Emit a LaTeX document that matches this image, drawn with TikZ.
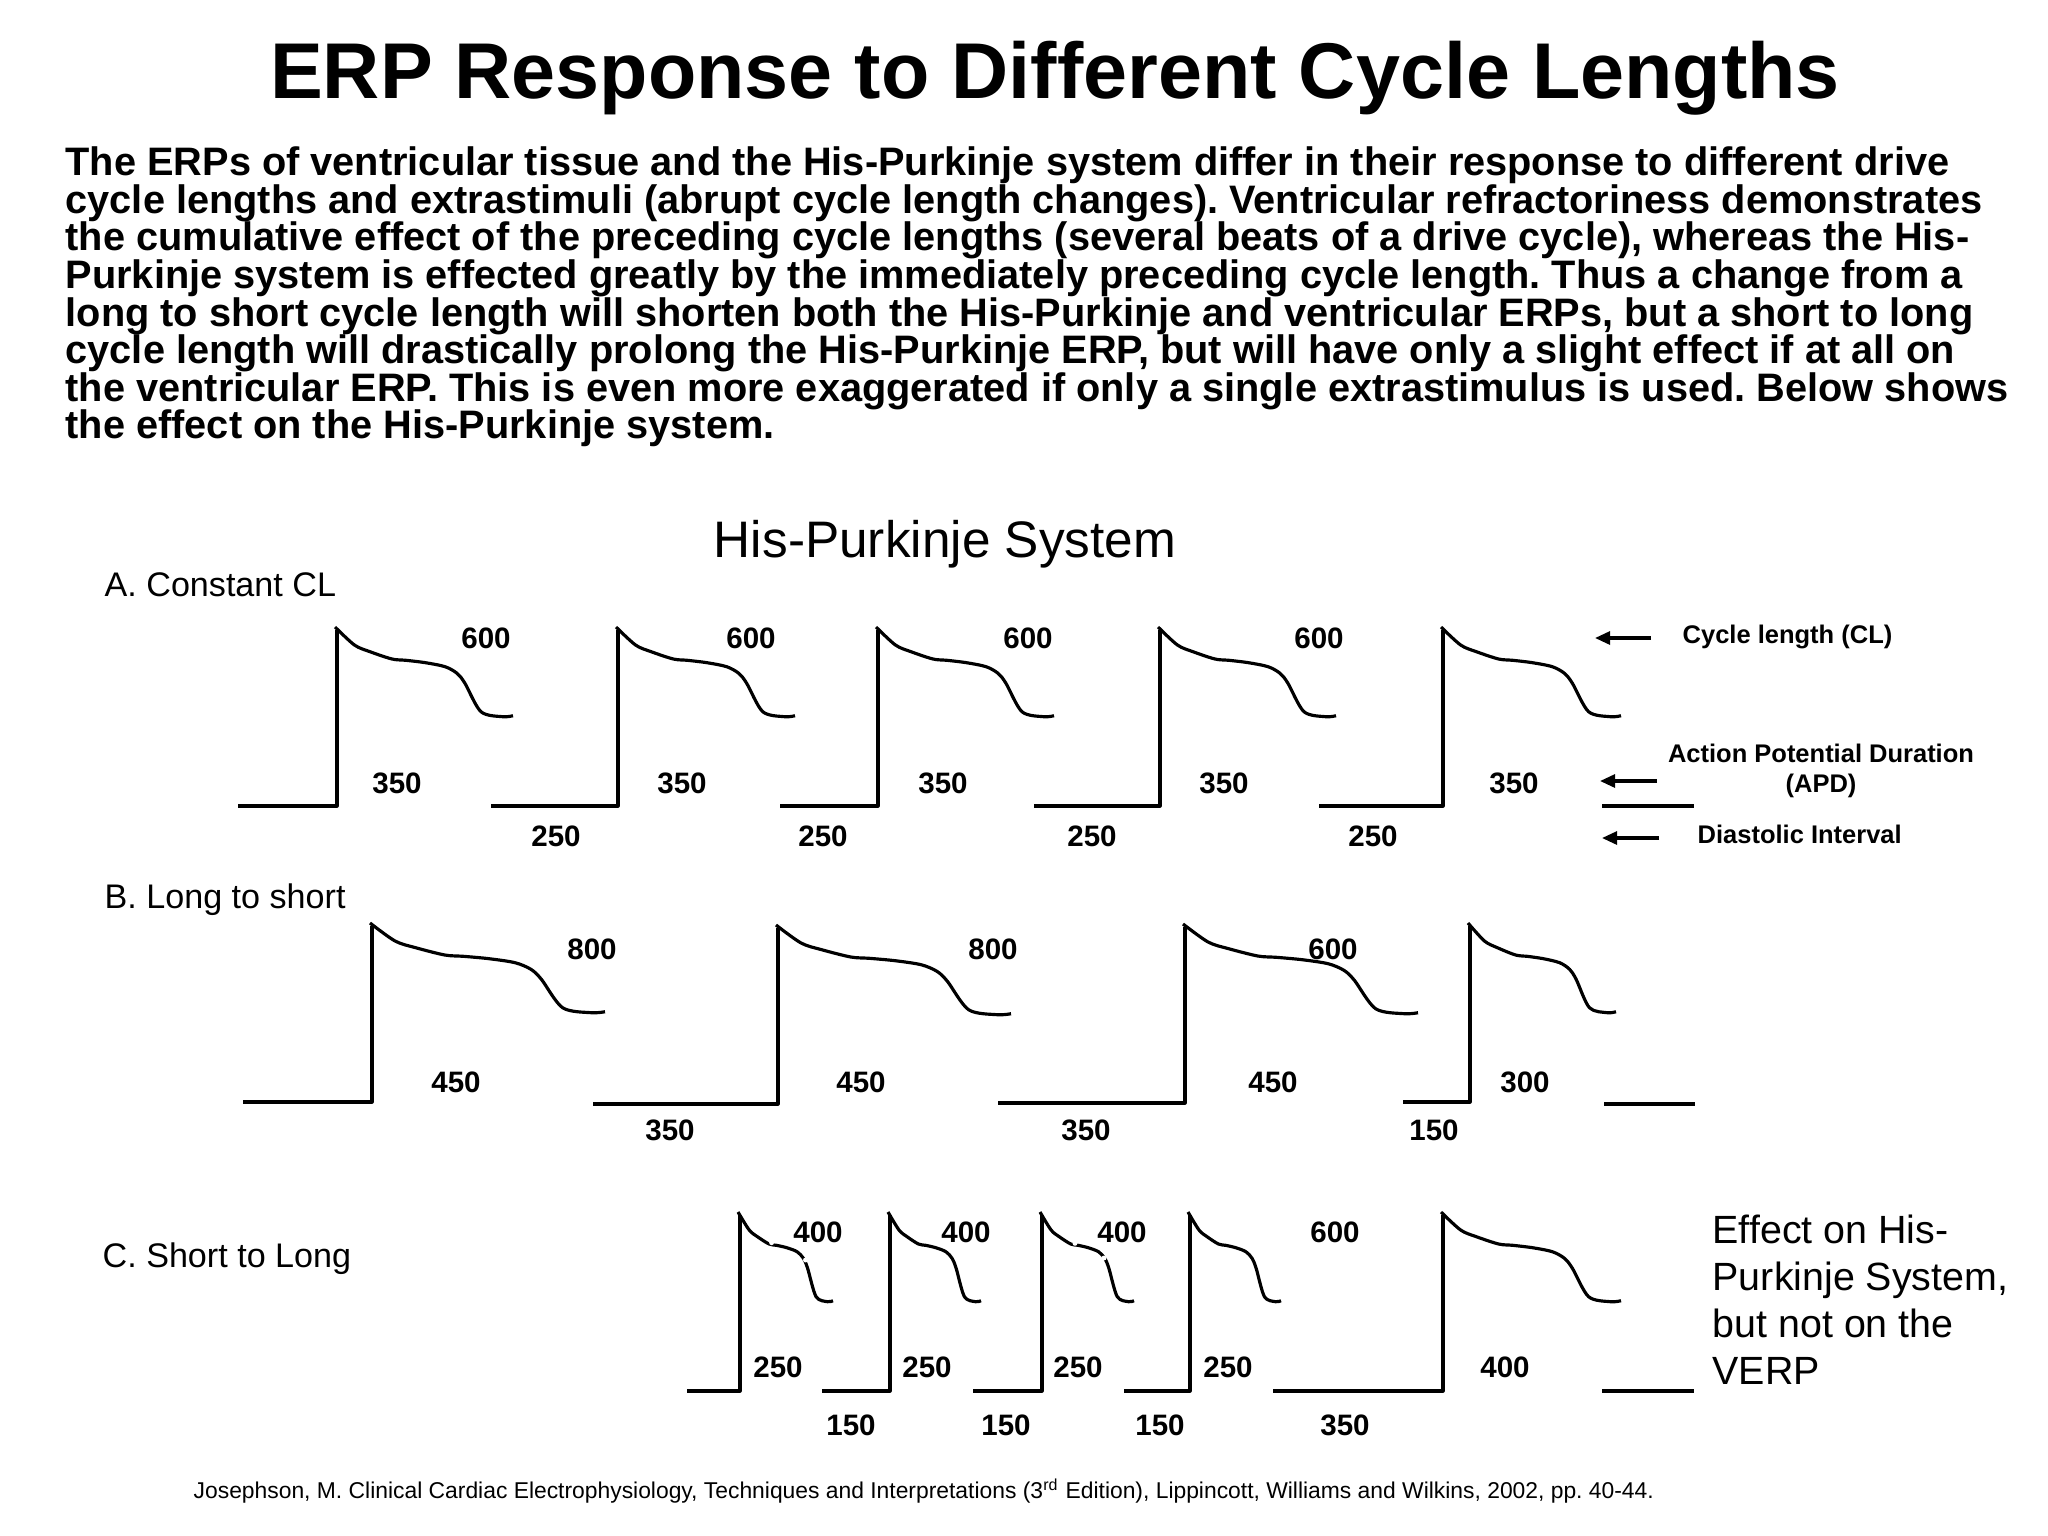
\documentclass[tikz,border=0pt]{standalone}
\usepackage{fontspec}
\setmainfont{Liberation Sans}
\usepackage{tikz}
\usetikzlibrary{arrows.meta}

\newcommand{\apwave}[4]{%
    \draw[trace] (#1,#3) -- (#2,#3) -- (#2,{#3-176});
    \draw[trace] plot[smooth,tension=0.5] coordinates {({#2-2},{#3-179}) ({#2+0.099*#4},{#3-161}) ({#2+0.1875*#4},{#3-154.3}) ({#2+0.3125*#4},{#3-147}) ({#2+0.392*#4},{#3-145.7}) ({#2+0.503*#4},{#3-143.3}) ({#2+0.614*#4},{#3-139.3}) ({#2+0.682*#4},{#3-132.7}) ({#2+0.727*#4},{#3-122.7}) ({#2+0.818*#4},{#3-94.3}) ({#2+0.941*#4},{#3-89.3}) ({#2+#4},{#3-90.3})};
}

\begin{document}
\frenchspacing
\begin{tikzpicture}[x=0.01cm,y=-0.01cm,
    trace/.style={line width=0.9pt,line join=round},
    legarrow/.style={line width=0.9pt,-{Triangle[length=4.3pt,width=3.7pt]}},
    num/.style={font=\fontsize{8.4}{10}\selectfont\bfseries,inner sep=0pt},
    leg/.style={font=\fontsize{7.25}{8.5}\selectfont\bfseries,inner sep=0pt},
    rowlab/.style={font=\fontsize{9.7}{12}\selectfont,inner sep=0pt,anchor=base west}]
    \useasboundingbox (0,0) rectangle (2048,1536);

    \node[font=\fontsize{22.5}{27}\selectfont\bfseries,inner sep=0pt,anchor=base] (title) at (1055,98) {ERP Response to Different Cycle Lengths};
    \node[font=\fontsize{11.3}{10.7}\selectfont\bfseries,inner sep=0pt,anchor=north west,align=left] (intro) at (65,146) {The ERPs of ventricular tissue and the His-Purkinje system differ in their response to different drive\\
    cycle lengths and extrastimuli (abrupt cycle length changes). Ventricular refractoriness demonstrates\\
    the cumulative effect of the preceding cycle lengths (several beats of a drive cycle), whereas the His-\\
    Purkinje system is effected greatly by the immediately preceding cycle length. Thus a change from a\\
    long to short cycle length will shorten both the His-Purkinje and ventricular ERPs, but a short to long\\
    cycle length will drastically prolong the His-Purkinje ERP, but will have only a slight effect if at all on\\
    the ventricular ERP. This is even more exaggerated if only a single extrastimulus is used. Below shows\\
    the effect on the His-Purkinje system.};
    \node[font=\fontsize{14.6}{17}\selectfont,inner sep=0pt,anchor=base] (hps) at (945,557) {His-Purkinje System};

    \node[rowlab] (rowA) at (104,596) {A. Constant CL};
    \node[rowlab] (rowB) at (104,908) {B. Long to short};
    \node[rowlab] (rowC) at (102,1267) {C. Short to Long};

    \apwave{238}{337}{806}{176}
    \apwave{491}{618}{806}{177}
    \apwave{780}{878}{806}{176}
    \apwave{1034}{1160}{806}{176}
    \apwave{1319}{1443}{806}{178}
    \draw[trace] (1602,806) -- (1694,806);
    \node[num] (acl1) at (486,638) {600};
    \node[num] (acl2) at (751,638) {600};
    \node[num] (acl3) at (1028,638) {600};
    \node[num] (acl4) at (1319,638) {600};
    \node[num] (aapd1) at (397,783) {350};
    \node[num] (aapd2) at (682,783) {350};
    \node[num] (aapd3) at (943,783) {350};
    \node[num] (aapd4) at (1224,783) {350};
    \node[num] (aapd5) at (1514,783) {350};
    \node[num] (adi1) at (556,836) {250};
    \node[num] (adi2) at (823,836) {250};
    \node[num] (adi3) at (1092,836) {250};
    \node[num] (adi4) at (1373,836) {250};

    \node[leg,anchor=west] (cl) at (1682,637) {Cycle length (CL)};
    \node[leg,anchor=north,align=center] (apd) at (1821,743) {Action Potential Duration\\(APD)};
    \node[leg,anchor=west] (di) at (1697,834) {Diastolic Interval};
    \coordinate (cltail) at (1651,638);
    \coordinate (cltip) at (1595,638);
    \coordinate (apdtail) at (1657,781);
    \coordinate (apdtip) at (1600,781);
    \coordinate (ditail) at (1659,838);
    \coordinate (ditip) at (1602,838);
    \draw[legarrow] (cltail) -- (cltip);
    \draw[legarrow] (apdtail) -- (apdtip);
    \draw[legarrow] (ditail) -- (ditip);

    \apwave{243}{372}{1102}{233}
    \apwave{593}{778}{1104}{233}
    \apwave{998}{1185}{1103}{233}
    \apwave{1403}{1470}{1102}{146}
    \draw[trace] (1604,1104) -- (1695,1104);
    \node[num] (bcl1) at (592,949) {800};
    \node[num] (bcl2) at (993,949) {800};
    \node[num] (bcl3) at (1333,949) {600};
    \node[num] (bapd1) at (456,1082) {450};
    \node[num] (bapd2) at (861,1082) {450};
    \node[num] (bapd3) at (1273,1082) {450};
    \node[num] (bapd4) at (1525,1082) {300};
    \node[num] (bdi1) at (670,1130) {350};
    \node[num] (bdi2) at (1086,1130) {350};
    \node[num] (bdi3) at (1434,1130) {150};

    \apwave{687}{740}{1391}{93}
    \apwave{822}{890}{1391}{91}
    \apwave{973}{1042}{1391}{92}
    \apwave{1124}{1190}{1391}{91}
    \apwave{1273}{1443}{1391}{178}
    \fill[white] (771.6,1242.7) circle[radius=0.7pt] (805.5,1260) circle[radius=0.7pt];
    \fill[white] (1075,1243.3) circle[radius=0.7pt] (1104,1258) circle[radius=0.7pt];
    \draw[trace] (1602,1391) -- (1694,1391);
    \node[num] (ccl1) at (818,1232) {400};
    \node[num] (ccl2) at (966,1232) {400};
    \node[num] (ccl3) at (1122,1232) {400};
    \node[num] (ccl4) at (1335,1232) {600};
    \node[num] (capd1) at (778,1367) {250};
    \node[num] (capd2) at (927,1367) {250};
    \node[num] (capd3) at (1078,1367) {250};
    \node[num] (capd4) at (1228,1367) {250};
    \node[num] (capd5) at (1505,1367) {400};
    \node[num] (cdi1) at (851,1425) {150};
    \node[num] (cdi2) at (1006,1425) {150};
    \node[num] (cdi3) at (1160,1425) {150};
    \node[num] (cdi4) at (1345,1425) {350};

    \node[font=\fontsize{11.2}{13.4}\selectfont,inner sep=0pt,anchor=north west,align=left] (effect) at (1712,1214) {Effect on His-\\Purkinje System,\\but not on the\\VERP};
    \node[font=\fontsize{6.5}{7.5}\selectfont,inner sep=0pt,anchor=west] (ref) at (193,1491) {Josephson, M. Clinical Cardiac Electrophysiology, Techniques and Interpretations (3\textsuperscript{rd} Edition), Lippincott, Williams and Wilkins, 2002, pp. 40-44.};
\end{tikzpicture}
\end{document}
